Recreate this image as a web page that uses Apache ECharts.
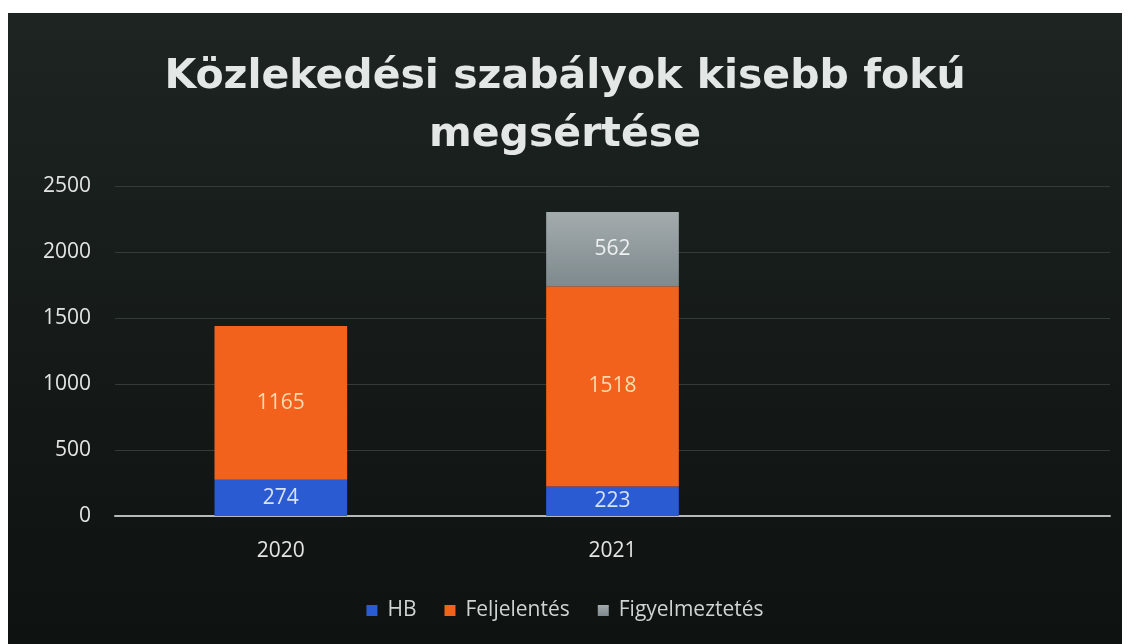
<!DOCTYPE html>
<html>
<head>
<meta charset="utf-8">
<script src="https://cdn.jsdelivr.net/npm/echarts@6/dist/echarts.min.js"></script>
<style>
  html, body { margin: 0; padding: 0; background: #fff; }
  #main { position: absolute; left: 8px; top: 13px; width: 1114px; height: 631px; }
</style>
</head>
<body>
<div id="main"></div>
<script>
// adatok
var categories = ["2020", "2021", ""];
var hbValues = [274, 223, null];
var feljelentesValues = [1165, 1518, null];
var figyelmeztetesValues = [null, 562, null];
var seriesNames = ["HB", "Feljelentés", "Figyelmeztetés"];
var titleText = "Közlekedési szabályok kisebb fokú\nmegsértése";

var chart = echarts.init(document.getElementById("main"));
var labelFont = { fontSize: 21, fontFamily: "Open Sans" };
var option = {
	backgroundColor: {
		type: "linear", x: 0, y: 0, x2: 0, y2: 1,
		colorStops: [
			{ offset: 0, color: "#1d2422" },
			{ offset: 1, color: "#0e1211" }
		]
	},
	title: {
		text: titleText,
		left: "center",
		top: 30,
		textStyle: {
			color: "#e3e7e6",
			fontFamily: "DejaVu Sans",
			fontWeight: "bold",
			fontSize: 41,
			lineHeight: 58
		}
	},
	legend: {
		top: 582,
		left: "center",
		itemWidth: 11,
		itemHeight: 11,
		itemGap: 28,
		icon: "rect",
		textStyle: { color: "#cfd3d2", fontSize: 21, fontFamily: "Open Sans", padding: [0, 0, 0, 5] }
	},
	grid: { left: 107, right: 12, top: 173, bottom: 128 },
	xAxis: {
		type: "category",
		data: categories,
		axisTick: { show: false },
		axisLine: { lineStyle: { color: "#b5b9b8", width: 2 } },
		axisLabel: { color: "#e2e5e4", fontSize: 21, margin: 25, fontFamily: "Open Sans" }
	},
	yAxis: {
		type: "value",
		min: 0,
		max: 2500,
		interval: 500,
		axisLine: { show: false },
		axisTick: { show: false },
		axisLabel: {
			color: "#e2e5e4", fontSize: 21, margin: 24, fontFamily: "Open Sans",
			formatter: function (v) { return String(v); }
		},
		splitLine: { lineStyle: { color: "#343a38", width: 1 } }
	},
	series: [
		{
			name: seriesNames[0],
			type: "bar",
			stack: "total",
			barWidth: "40%",
			data: hbValues,
			itemStyle: { color: "#2b5bd3" },
			label: Object.assign({ show: true, position: "inside", color: "#d6e2f5" }, labelFont)
		},
		{
			name: seriesNames[1],
			type: "bar",
			stack: "total",
			data: feljelentesValues,
			itemStyle: { color: "#f2621c" },
			label: Object.assign({ show: true, position: "inside", color: "#f8dcb0" }, labelFont)
		},
		{
			name: seriesNames[2],
			type: "bar",
			stack: "total",
			data: figyelmeztetesValues,
			itemStyle: {
				color: {
					type: "linear", x: 0, y: 0, x2: 0, y2: 1,
					colorStops: [
						{ offset: 0, color: "#a3abad" },
						{ offset: 1, color: "#7e8a8e" }
					]
				}
			},
			label: Object.assign({ show: true, position: "inside", color: "#eef0f0" }, labelFont)
		}
	]
};
chart.setOption(option);
</script>
</body>
</html>
